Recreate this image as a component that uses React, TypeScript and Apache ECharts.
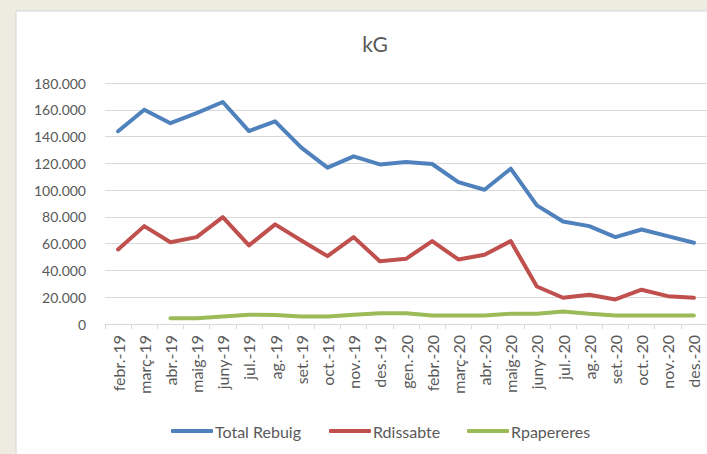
import React, { useEffect, useRef } from "react";
import * as echarts from "echarts";

const categories = [
  "febr.-19", "març-19", "abr.-19", "maig-19", "juny-19", "jul.-19", "ag.-19", "set.-19",
  "oct.-19", "nov.-19", "des.-19", "gen.-20", "febr.-20", "març-20", "abr.-20", "maig-20",
  "juny-20", "jul.-20", "ag.-20", "set.-20", "oct.-20", "nov.-20", "des.-20",
];

const totalRebuig = [
  144000, 160000, 150000, 157500, 165800, 144100, 151400, 131700, 116800, 125200, 119200,
  121000, 119500, 106000, 100300, 116000, 88600, 76600, 73100, 64900, 70600, 65600, 60700,
];

const rdissabte = [
  55700, 73100, 61100, 64900, 79800, 58700, 74400, 62400, 50700, 64900, 46900,
  48700, 61900, 48200, 51700, 61900, 28000, 19600, 21800, 18300, 25600, 20800, 19600,
];

const rpapereres = [
  null, null, 4300, 4300, 5600, 6900, 6700, 5600, 5600, 6900, 8100,
  8100, 6400, 6400, 6400, 7600, 7600, 9300, 7600, 6400, 6400, 6400, 6400,
];

const seriesNames = ["Total Rebuig", "Rdissabte", "Rpapereres"];
const seriesColors = ["#4F81BD", "#C0504D", "#9BBB59"];

const fmt = (v: number) => {
  if (v === 0) return "0";
  const s = Math.round(v).toString();
  return s.replace(/\B(?=(\d{3})+(?!\d))/g, ".");
};

export default function App() {
  const ref = useRef<HTMLDivElement>(null);

  useEffect(() => {
    if (!ref.current) return;
    const chart = echarts.init(ref.current, undefined, { renderer: "svg" });
    const font = "Lato, 'Open Sans', sans-serif";
    const dataArr = [totalRebuig, rdissabte, rpapereres];
    const legendLefts = [166, 324, 462];

    chart.setOption({
      animation: false,
      backgroundColor: "#EEEBE0",
      graphic: [
        {
          type: "rect",
          z: -10,
          shape: { x: 16, y: 11, width: 700, height: 450 },
          style: { fill: "#FFFFFF", stroke: "#D4D4D4", lineWidth: 1 },
          silent: true,
        },
        {
          type: "text",
          x: 375,
          y: 43,
          style: {
            text: "kG",
            fontSize: 21,
            fontFamily: font,
            fill: "#595959",
            align: "center",
            verticalAlign: "middle",
          },
        },
      ],
      legend: seriesNames.map((n, i) => ({
        data: [n],
        left: legendLefts[i],
        top: 418,
        icon: "roundRect",
        itemWidth: 42,
        itemHeight: 4,
        itemGap: 20,
        textStyle: { fontSize: 16, fontFamily: font, color: "#595959", padding: [0, 0, 0, -3] },
      })),
      grid: { left: 105, top: 83, width: 608, height: 241, containLabel: false },
      xAxis: {
        type: "category",
        data: categories,
        boundaryGap: true,
        axisLine: { lineStyle: { color: "#D9D9D9", width: 1 } },
        axisTick: { show: true, length: 5, alignWithLabel: false, lineStyle: { color: "#D9D9D9" } },
        axisLabel: {
          rotate: 90,
          interval: 0,
          margin: 11,
          fontSize: 16,
          fontFamily: font,
          color: "#595959",
        },
        splitLine: { show: false },
      },
      yAxis: {
        type: "value",
        min: 0,
        max: 180000,
        interval: 20000,
        axisLine: { show: false },
        axisTick: { show: false },
        axisLabel: {
          margin: 19,
          fontSize: 14,
          fontFamily: font,
          color: "#595959",
          formatter: (v: number) => fmt(v),
        },
        splitLine: { lineStyle: { color: "#D9D9D9", width: 1 } },
      },
      series: seriesNames.map((n, i) => ({
        name: n,
        type: "line",
        data: dataArr[i],
        showSymbol: false,
        symbol: "none",
        smooth: false,
        connectNulls: false,
        color: seriesColors[i],
        lineStyle: { width: 4, color: seriesColors[i], cap: "round", join: "round" },
      })),
    });

    return () => chart.dispose();
  }, []);

  return (
    <div
      ref={ref}
      style={{ position: "fixed", left: 0, top: 0, width: 707, height: 454 }}
    />
  );
}
